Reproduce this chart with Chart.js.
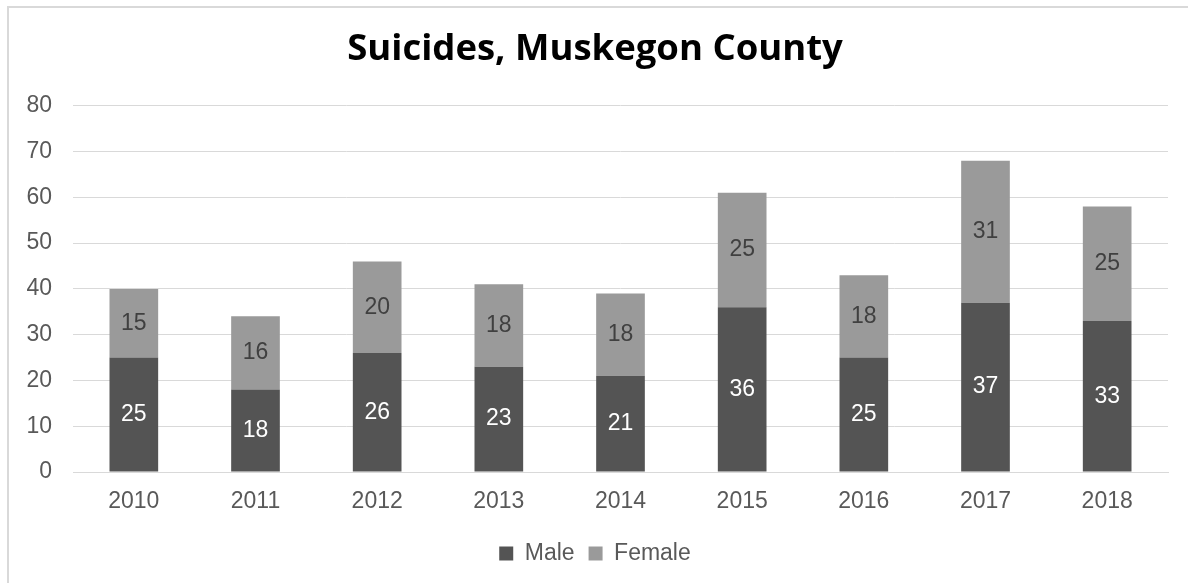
<!DOCTYPE html>
<html>
<head>
<meta charset="utf-8">
<script src="https://cdn.jsdelivr.net/npm/chart.js@4/dist/chart.umd.min.js"></script>
<style>
  body { margin: 0; background: #fff; }
  #wrap { position: relative; width: 1188px; height: 583px; overflow: hidden; }
  #frame { position: absolute; left: 7px; top: 6px; width: 1200px; height: 600px; border: 2px solid #d9d9d9; box-sizing: border-box; }
  #chart1 { position: absolute; left: 0; top: 0; }
</style>
</head>
<body>
<div id="wrap">
  <div id="frame"></div>
  <canvas id="chart1" width="1188" height="583"></canvas>
</div>
<script>
// data
var years = ["2010", "2011", "2012", "2013", "2014", "2015", "2016", "2017", "2018"];
var male = [25, 18, 26, 23, 21, 36, 25, 37, 33];
var female = [15, 16, 20, 18, 18, 25, 18, 31, 25];

var tickFont = { family: "'Liberation Sans', Arial, sans-serif", size: 23 };

// value labels in the middle of each bar piece
var barLabels = {
  id: "barLabels",
  afterDatasetsDraw: function (chart) {
    var ctx = chart.ctx;
    ctx.save();
    ctx.font = "23px 'Liberation Sans', Arial, sans-serif";
    ctx.textAlign = "center";
    ctx.textBaseline = "middle";
    chart.data.datasets.forEach(function (ds, i) {
      ctx.fillStyle = ds.labelColor;
      chart.getDatasetMeta(i).data.forEach(function (bar, j) {
        var c = bar.getCenterPoint();
        ctx.fillText(ds.data[j], c.x, c.y);
      });
    });
    ctx.restore();
  }
};

var chart = new Chart(document.getElementById("chart1"), {
  type: "bar",
  data: {
    labels: years,
    datasets: [
      { label: "Male", data: male, backgroundColor: "#545454", labelColor: "#ffffff" },
      { label: "Female", data: female, backgroundColor: "#9a9a9a", labelColor: "#404040" }
    ]
  },
  options: {
    responsive: false,
    animation: false,
    // left padding + y width = 73
    layout: { padding: { left: 22, right: 20, top: 0, bottom: 8 } },
    datasets: { bar: { categoryPercentage: 1, barPercentage: 0.4 } },
    plugins: {
      title: {
        display: true,
        text: "Suicides, Muskegon County",
        color: "#000",
        font: { family: "'Open Sans', sans-serif", size: 36.5, weight: "bold", lineHeight: 1.2 },
        padding: { top: 28, bottom: 34 }
      },
      legend: {
        position: "bottom",
        labels: {
          color: "#595959",
          font: tickFont,
          boxWidth: 14,
          boxHeight: 14,
          padding: 14
        }
      },
      tooltip: { enabled: false }
    },
    scales: {
      x: {
        stacked: true,
        grid: { display: false },
        border: { color: "#d9d9d9" },
        ticks: { color: "#595959", font: tickFont, padding: 8 },
        afterFit: function (scale) { scale.height = 56; }
      },
      y: {
        stacked: true,
        min: 0,
        max: 80,
        ticks: { stepSize: 10, color: "#595959", font: tickFont, padding: 21 },
        grid: { color: "#d9d9d9", drawTicks: false },
        border: { display: false },
        afterFit: function (scale) { scale.width = 51; }
      }
    }
  },
  plugins: [barLabels]
});
</script>
</body>
</html>
